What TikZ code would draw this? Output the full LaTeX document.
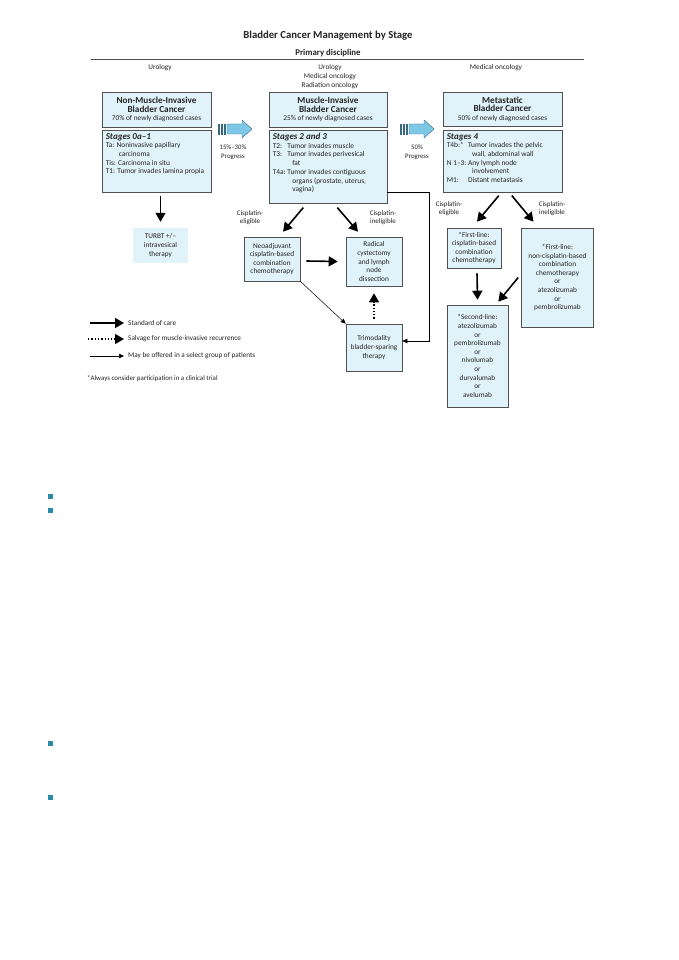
\documentclass[tikz,border=0pt]{standalone}
\usepackage{fontspec}
\setmainfont{Carlito}
\usetikzlibrary{arrows.meta,calc,positioning}
\definecolor{boxfill}{RGB}{225,243,250}
\definecolor{boxline}{RGB}{80,80,80}
\definecolor{txt}{RGB}{35,35,35}
\definecolor{progfill}{RGB}{125,200,230}
\definecolor{progline}{RGB}{55,105,135}
\definecolor{bulletblue}{RGB}{40,140,170}

\begin{document}
\begin{tikzpicture}[x=1pt, y=-1pt,
		every node/.style={text=txt, font=\fontsize{7.3}{8.6}\selectfont, inner sep=0pt},
		header/.style={rectangle, draw=boxline, fill=boxfill, line width=0.6pt, minimum height=35pt, align=center},
		stages/.style={rectangle, draw=boxline, fill=boxfill, line width=0.6pt, inner xsep=3.5pt, inner ysep=3pt, font=\fontsize{7.4}{8.7}\selectfont},
		treat/.style={rectangle, draw=boxline, fill=boxfill, line width=0.6pt, align=center},
		small/.style={font=\fontsize{7}{8.3}\selectfont, align=center},
		stdarrow/.style={line width=1.6pt, -{Triangle[length=9pt, width=10pt]}},
		salvarrow/.style={line width=1.3pt, dotted, -{Triangle[length=9pt, width=10pt]}},
		optarrow/.style={line width=0.5pt, -{Triangle[length=5pt, width=4.5pt]}}]
		
		\useasboundingbox (0,0) rectangle (678,960);
		
		% title and disciplines
		\node[font=\bfseries\fontsize{10.7}{12}\selectfont] (title) at (328,36) {Bladder Cancer Management by Stage};
		\node[font=\bfseries\fontsize{8.8}{10}\selectfont] (discipline) at (328,53) {Primary discipline};
		\draw[line width=0.6pt, boxline] (91,59.5) -- (584,59.5);
		\node[small, font=\fontsize{7.3}{8.6}\selectfont] (uro) at (160,68) {Urology};
		\node[small, font=\fontsize{7.3}{8.6}\selectfont] (uromedrad) at (330,76.5) {Urology\\Medical oncology\\Radiation oncology};
		\node[small, font=\fontsize{7.3}{8.6}\selectfont] (medonc) at (496,68) {Medical oncology};
		
		% progress arrows
		\foreach \ax in {218,400} {
			\fill[progfill, draw=progline, line width=0.4pt] (\ax+9,124) -- (\ax+24,124) -- (\ax+24,120) -- (\ax+34,129) -- (\ax+24,138) -- (\ax+24,134) -- (\ax+9,134) -- cycle;
			\fill[progfill, draw=progline, line width=0.4pt] (\ax,124) rectangle (\ax+1.6,134);
			\fill[progfill, draw=progline, line width=0.4pt] (\ax+3,124) rectangle (\ax+4.6,134);
			\fill[progfill, draw=progline, line width=0.4pt] (\ax+6,124) rectangle (\ax+7.6,134);
		}
		\node[small, font=\fontsize{6.8}{8.6}\selectfont] (prog1) at (233,152) {15\%–30\%\\Progress};
		\node[small, font=\fontsize{6.8}{8.6}\selectfont] (prog2) at (417,152) {50\%\\Progress};
		
		% non-muscle-invasive
		\node[header, minimum width=109pt] (hdrNMI) at (156.5,109.5) {\bfseries\fontsize{9.2}{10}\selectfont Non-Muscle-Invasive\\\bfseries\fontsize{9.2}{10}\selectfont Bladder Cancer\\\fontsize{7.3}{9}\selectfont 70\% of newly diagnosed cases};
		\node[stages, anchor=north west] (stgNMI) at (102,130) {\begin{minipage}[t][56pt][t]{102pt}
				{\bfseries\itshape\fontsize{9}{10}\selectfont Stages 0a–1}\\
				Ta: Noninvasive papillary\\
				\hspace*{13pt}carcinoma\\
				Tis: Carcinoma in situ\\
				T1: Tumor invades lamina propia
			\end{minipage}};
		\node[rectangle, fill=boxfill, minimum width=55pt, minimum height=35pt, align=center] (turbt) at (160.5,245.5) {TURBT +/–\\intravesical\\therapy};
		\draw[stdarrow] ($(turbt.north |- stgNMI.south)+(0,3)$) -- ($(turbt.north)+(0,-6)$);
		
		% muscle-invasive
		\node[header, minimum width=118pt] (hdrMI) at (328,109.5) {\bfseries\fontsize{9.2}{10}\selectfont Muscle-Invasive\\\bfseries\fontsize{9.2}{10}\selectfont Bladder Cancer\\\fontsize{7.3}{9}\selectfont 25\% of newly diagnosed cases};
		\node[stages, anchor=north west] (stgMI) at (269,130) {\begin{minipage}[t][67pt][t]{111pt}
				{\bfseries\itshape\fontsize{9}{10}\selectfont Stages 2 and 3}\\
				\begin{tabular}{@{}l@{\ }l@{}}
					T2: & Tumor invades muscle\\
					T3: & Tumor invades perivesical\\
					& \hspace*{5pt}fat\\
					T4a: & Tumor invades contiguous\\
					& \hspace*{5pt}organs (prostate, uterus,\\
					& \hspace*{5pt}vagina)
				\end{tabular}
			\end{minipage}};
		\node[small] (eligMI) at (250,218) {Cisplatin-\\eligible};
		\node[small] (ineligMI) at (383,218) {Cisplatin-\\ineligible};
		\node[treat, minimum width=56pt, minimum height=44pt] (neo) at (272,259) {Neoadjuvant\\cisplatin-based\\combination\\chemotherapy};
		\node[treat, minimum width=56pt, minimum height=49pt] (radical) at (374,261.5) {Radical\\cystectomy\\and lymph\\node\\dissection};
		\node[treat, minimum width=56pt, minimum height=47pt] (trimod) at (374,347.5) {Trimodality\\bladder-sparing\\therapy};
		\coordinate (miout) at (387,192);
		\coordinate (miturn) at (429,341);
		
		\draw[stdarrow] ($(stgMI.south)+(-25,4)$) -- ($(neo.north)+(11,-5)$);
		\draw[stdarrow] ($(stgMI.south)+(9,4)$) -- ($(radical.north)+(-16,-5)$);
		\draw[stdarrow] ($(neo.east)+(6,2)$) -- ($(radical.west)+(-8,0)$);
		\draw[optarrow] (neo.south east) -- (trimod.north west);
		\draw[salvarrow] ($(trimod.north)+(0,-5)$) -- ($(radical.south)+(0,7)$);
		\draw[optarrow] (miout) -| (miturn) -- (trimod.east |- miturn);
		
		% metastatic
		\node[header, minimum width=119pt, minimum height=34pt] (hdrMet) at (502.5,109) {\bfseries\fontsize{9.2}{10}\selectfont Metastatic\\\bfseries\fontsize{9.2}{10}\selectfont Bladder Cancer\\\fontsize{7.3}{9}\selectfont 50\% of newly diagnosed cases};
		\node[stages, anchor=north west] (stgMet) at (443,130) {\begin{minipage}[t][56pt][t]{112pt}
				{\bfseries\itshape\fontsize{9}{10}\selectfont Stages 4}\\
				\begin{tabular}{@{}l@{\ }l@{}}
					T4b:* & Tumor invades the pelvic\\
					& \hspace*{4pt}wall, abdominal wall\\
					N 1–3: & Any lymph node\\
					& \hspace*{4pt}involvement\\
					M1: & Distant metastasis
				\end{tabular}
			\end{minipage}};
		\node[small] (eligMet) at (449,209) {Cisplatin-\\eligible};
		\node[small] (ineligMet) at (552,209) {Cisplatin-\\ineligible};
		\node[treat, minimum width=54pt, minimum height=40pt] (firstcis) at (474,248) {*First-line:\\cisplatin-based\\combination\\chemotherapy};
		\node[treat, minimum width=72pt, minimum height=99pt] (firstnon) at (557.5,277.5) {*First-line:\\non-cisplatin-based\\combination\\chemotherapy\\or\\atezolizumab\\or\\pembrolizumab};
		\node[treat, minimum width=61pt, minimum height=102pt] (second) at (477.5,356) {*Second-line:\\atezolizumab\\or\\pembrolizumab\\or\\nivolumab\\or\\durvalumab\\or\\avelumab};
		
		\draw[stdarrow] ($(stgMet.south)+(-4,3)$) -- ($(firstcis.north)+(3,-6)$);
		\draw[stdarrow] ($(stgMet.south)+(9,3)$) -- ($(firstnon.north)+(-24,-6)$);
		\draw[stdarrow] ($(firstcis.south)+(3,5)$) -- ($(second.north)+(0,-5)$);
		\draw[stdarrow] ($(firstnon.west)+(-3,0)$) -- ($(second.north east)+(-10,-3)$);
		
		% legend
		\node[small, font=\fontsize{7.2}{8.5}\selectfont, anchor=west] (legstd) at (128,323) {Standard of care};
		\node[small, font=\fontsize{7.2}{8.5}\selectfont, anchor=west] (legsalv) at (128,339) {Salvage for muscle-invasive recurrence};
		\node[small, font=\fontsize{7.2}{8.5}\selectfont, anchor=west] (legopt) at (128,356) {May be offered in a select group of patients};
		\coordinate (legstdin) at (90,323);
		\coordinate (legsalvin) at (88,339);
		\coordinate (legoptin) at (90,356);
		\draw[stdarrow] (legstdin) -- ($(legstd.west)+(-4,0)$);
		\draw[salvarrow] (legsalvin) -- ($(legsalv.west)+(-4,0)$);
		\draw[optarrow] (legoptin) -- ($(legopt.west)+(-4,0)$);
		\node[small, font=\fontsize{6.9}{8.3}\selectfont, anchor=west] (trial) at (87,379) {*Always consider participation in a clinical trial};
		
		% bullets
		\fill[bulletblue] (48,494) rectangle (53,499);
		\fill[bulletblue] (48,508) rectangle (53,513);
		\fill[bulletblue] (48,741) rectangle (53,746);
		\fill[bulletblue] (48,795) rectangle (53,800);
		
	\end{tikzpicture}
\end{document}
